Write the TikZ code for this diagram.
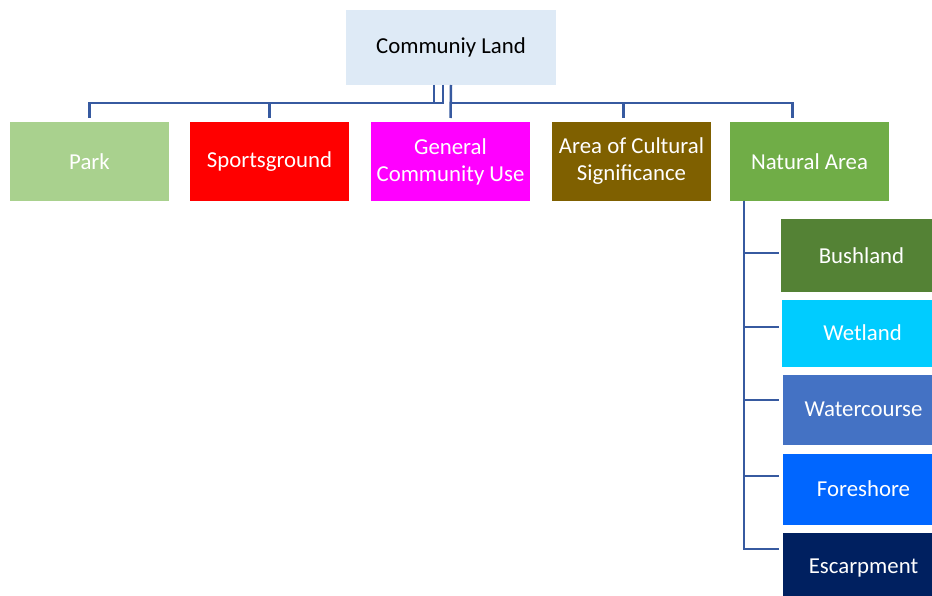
\documentclass[tikz,border=0pt]{standalone}
\usepackage{fontspec}
\setmainfont{Carlito}
\usetikzlibrary{calc}
\definecolor{rootfill}{HTML}{DEEAF6}
\definecolor{parkfill}{HTML}{A9D18E}
\definecolor{sportfill}{HTML}{FF0000}
\definecolor{genfill}{HTML}{FF00FF}
\definecolor{cultfill}{HTML}{7F6000}
\definecolor{natfill}{HTML}{70AD47}
\definecolor{bushfill}{HTML}{548235}
\definecolor{wetfill}{HTML}{00CCFF}
\definecolor{waterfill}{HTML}{4472C4}
\definecolor{shorefill}{HTML}{0066FF}
\definecolor{escfill}{HTML}{002060}
\definecolor{linkcol}{RGB}{55,90,160}
\tikzset{
  box/.style={inner sep=0pt, outer sep=0pt, align=center, text=white,
    font=\fontsize{22.8}{27}\selectfont},
  topbox/.style={box, minimum width=159pt, minimum height=79pt},
  subbox/.style={box, anchor=west, minimum width=161pt},
  conn/.style={draw=linkcol, line width=2.5pt}
}
\begin{document}
\begin{tikzpicture}[x=1pt,y=-1pt]
  \useasboundingbox (0,0) rectangle (932,596);
  \clip (0,0) rectangle (932,596);

  % root
  \node[box, text=black, fill=rootfill, minimum width=210pt, minimum height=75pt]
    (root) at (451,47.5) {Communiy Land};

  % first level
  \node[topbox, fill=parkfill]  (park)  at (89.5,161.5)  {Park};
  \node[topbox, fill=sportfill] (sport) at (269.5,161.5) {Sportsground};
  \node[topbox, fill=genfill]   (gen)   at (450.5,161.5) {General\\Community Use};
  \node[topbox, fill=cultfill]  (cult)  at (631.5,161.5) {Area of Cultural\\Significance};
  \node[topbox, fill=natfill]   (nat)   at (809.5,161.5) {Natural Area};

  % natural area subtypes (running off the right and bottom edges)
  \node[subbox, fill=bushfill,  minimum height=72pt] (bush)  at (781,255.5) {Bushland};
  \node[subbox, fill=wetfill,   minimum height=67pt] (wet)   at (782,333)   {Wetland};
  \node[subbox, fill=waterfill, minimum height=70pt] (water) at (783,409.5) {Watercourse};
  \node[subbox, fill=shorefill, minimum height=71pt] (shore) at (783,489)   {Foreshore};
  \node[subbox, fill=escfill,   minimum height=70pt] (esc)   at (783,568)   {Escarpment};

  % top-level connectors
  \draw[conn] ([xshift=-17pt]root.south) -- ++(0,18) -| ([yshift=4pt]park.north);
  \draw[conn] ([xshift=-8pt]root.south) -- ++(0,18) -| ([yshift=4pt]sport.north);
  \draw[conn] (root.south) -- ([yshift=4pt]gen.north);
  \draw[conn] ($(root.south)+(0,18)$) -| ([xshift=-8pt,yshift=4pt]cult.north);
  \draw[conn] ($(root.south)+(0,18)$) -| ([xshift=-17pt,yshift=4pt]nat.north);

  % natural area spine and branches
  \coordinate (spine) at ($(nat.south west)+(14,0)$);
  \coordinate (b1) at (779,253);
  \coordinate (b2) at (779,327);
  \coordinate (b3) at (779,400);
  \coordinate (b4) at (779,476);
  \coordinate (b5) at (779,549);
  \draw[conn] (spine) |- (b5);
  \draw[conn] (spine) |- (b1);
  \draw[conn] (spine) |- (b2);
  \draw[conn] (spine) |- (b3);
  \draw[conn] (spine) |- (b4);
\end{tikzpicture}
\end{document}
